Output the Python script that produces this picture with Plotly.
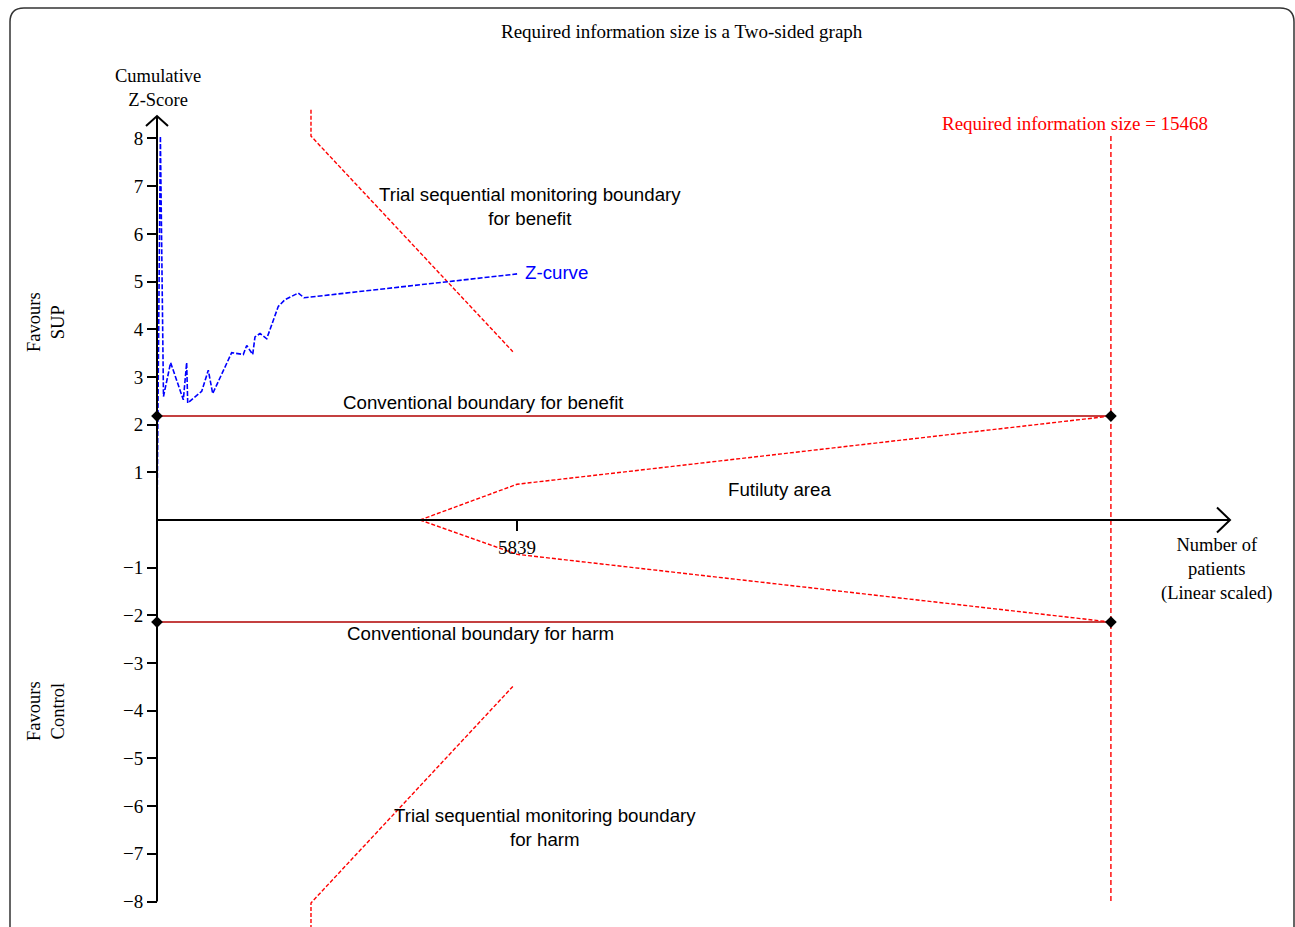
import plotly.graph_objects as go

# ---- data -------------------------------------------------------------
RIS = 15468                # required information size
CURRENT_N = 5839           # patients accrued so far

# cumulative Z-curve
z_n = [0, 55, 105, 221, 427, 481, 498, 725, 832, 903, 1211, 1399, 1455,
       1552, 1589, 1670, 1779, 1967, 2076, 2291, 2384, CURRENT_N]
z_val = [0, 8.05, 2.59, 3.30, 2.52, 3.30, 2.45, 2.70, 3.14, 2.65, 3.51,
         3.47, 3.66, 3.47, 3.84, 3.91, 3.80, 4.48, 4.62, 4.76, 4.66, 5.16]

# trial sequential monitoring boundaries
tsmb_benefit_n = [2497, 2497, 5770]
tsmb_benefit_z = [8.6, 8.05, 3.53]
tsmb_harm_n = [2497, 2497, 5770]
tsmb_harm_z = [-8.7, -8.03, -3.49]

# futility (inner wedge) boundaries
fut_upper_n = [4265, CURRENT_N, RIS]
fut_upper_z = [0, 0.75, 2.18]
fut_lower_n = [4265, CURRENT_N, RIS]
fut_lower_z = [0, -0.72, -2.14]

# conventional boundaries
conv_benefit = 2.18
conv_harm = -2.14

y_ticks = [-8, -7, -6, -5, -4, -3, -2, -1, 1, 2, 3, 4, 5, 6, 7, 8]
x_ticks = [CURRENT_N]

# ---- layout geometry --------------------------------------------------
W, H = 1295, 927
ML, MR, MT, MB = 126, 40, 100, 0
PW, PH = W - ML - MR, H - MT - MB
X0_PX, X_SCALE = 157, 0.06167       # pixel of x=0, pixels per patient
Y0_PX, Y_SCALE = 520, 47.69         # pixel of z=0, pixels per unit z

x_lo = (ML - X0_PX) / X_SCALE
x_hi = (ML + PW - X0_PX) / X_SCALE
y_hi = (Y0_PX - MT) / Y_SCALE
y_lo = (Y0_PX - (H - MB)) / Y_SCALE


def px(xp):
    return (xp - ML) / PW


def py(yp):
    return (H - MB - yp) / PH


SERIF = "Liberation Serif"
SANS = "Liberation Sans"
SERIF_SIZE = 19
SANS_SIZE = 18.7
RED = "#ff0000"
DARKRED = "#b00000"
BLUE = "#0000ff"

fig = go.Figure()

# conventional boundaries
for zc in (conv_benefit, conv_harm):
    fig.add_trace(go.Scatter(x=[0, RIS], y=[zc, zc], mode="lines",
                             line=dict(color=DARKRED, width=1.6),
                             hoverinfo="skip", cliponaxis=False))

# futility wedge
for xs, ys in ((fut_upper_n, fut_upper_z), (fut_lower_n, fut_lower_z)):
    fig.add_trace(go.Scatter(x=xs, y=ys, mode="lines",
                             line=dict(color=RED, width=1.4, dash="4px,2px"),
                             hoverinfo="skip"))

# monitoring boundaries
for xs, ys in ((tsmb_benefit_n, tsmb_benefit_z), (tsmb_harm_n, tsmb_harm_z)):
    fig.add_trace(go.Scatter(x=xs, y=ys, mode="lines",
                             line=dict(color=RED, width=1.4, dash="4px,2px"),
                             hoverinfo="skip"))

# required information size line
fig.add_trace(go.Scatter(x=[RIS, RIS], y=[8.05, -8.0], mode="lines",
                         line=dict(color=RED, width=1.4, dash="5px,3px"),
                         hoverinfo="skip"))

# axes lines with arrowheads
arm_x = 11 / X_SCALE
arm_y = 10 / Y_SCALE
y_top = 8.47
fig.add_shape(type="line", x0=0, x1=0, y0=-8, y1=y_top,
              line=dict(color="black", width=2))
fig.add_shape(type="path",
              path=f"M {-arm_x} {y_top - arm_y} L 0 {y_top} L {arm_x} {y_top - arm_y}",
              line=dict(color="black", width=2))
x_end = 17399
ax_arm_x = 13 / X_SCALE
ax_arm_y = 12.5 / Y_SCALE
fig.add_shape(type="line", x0=0, x1=x_end, y0=0, y1=0,
              line=dict(color="black", width=2))
fig.add_shape(type="path",
              path=f"M {x_end - ax_arm_x} {ax_arm_y} L {x_end} 0 L {x_end - ax_arm_x} {-ax_arm_y}",
              line=dict(color="black", width=2))

# Z-curve
fig.add_trace(go.Scatter(x=z_n, y=z_val, mode="lines",
                         line=dict(color=BLUE, width=1.6, dash="5px,2px"),
                         hoverinfo="skip", cliponaxis=False))

# boundary end points
fig.add_trace(go.Scatter(x=[0, RIS, 0, RIS],
                         y=[conv_benefit, conv_benefit, conv_harm, conv_harm],
                         mode="markers",
                         marker=dict(symbol="diamond", size=9, color="black"),
                         hoverinfo="skip", cliponaxis=False))

# outer rounded frame
r = 14
fl, ft, fr, fb = 10, 8, 1294, 945
frame = (f"M {px(fl)} {py(fb)} L {px(fl)} {py(ft + r)} "
         f"Q {px(fl)} {py(ft)} {px(fl + r)} {py(ft)} "
         f"L {px(fr - r)} {py(ft)} Q {px(fr)} {py(ft)} {px(fr)} {py(ft + r)} "
         f"L {px(fr)} {py(fb)}")
fig.add_shape(type="path", path=frame, xref="paper", yref="paper",
              line=dict(color="#333333", width=1.5))

ann = []


def note(text, x, y, size=SANS_SIZE, color="black", family=SANS, xref="x",
         yref="y", xanchor="center", angle=0):
    ann.append(dict(text=text, x=x, y=y, xref=xref, yref=yref, showarrow=False,
                    xanchor=xanchor, yanchor="middle", textangle=angle,
                    font=dict(family=family, size=size, color=color)))


note("Required information size is a Two-sided graph", px(682), py(32),
     family=SERIF, size=SERIF_SIZE, xref="paper", yref="paper")
note("Cumulative<br>Z-Score", px(158), py(88), family=SERIF, size=18.5,
     xref="paper", yref="paper")
note("Favours<br>SUP", px(46), py(322), family=SERIF, size=18.5,
     xref="paper", yref="paper", angle=-90)
note("Favours<br>Control", px(46), py(711), family=SERIF, size=18.5,
     xref="paper", yref="paper", angle=-90)
note("Number of<br>patients<br>(Linear scaled)", 17188, -1.03, family=SERIF,
     size=18.5)
note(f"Required information size = {RIS}", 14886, 8.32, family=SERIF,
     size=SERIF_SIZE, color=RED)
note("Trial sequential monitoring boundary<br>for benefit", 6048, 6.58)
note("Z-curve", 5935, 5.18, color=BLUE, xanchor="left")
note("Conventional boundary for benefit", 5302, 2.47)
note("Futiluty area", 10086, 0.65)
note("Conventional boundary for harm", 5238, -2.37)
note("Trial sequential monitoring boundary<br>for harm", 6292, -6.44)

fig.update_layout(
    width=W, height=H,
    margin=dict(l=ML, r=MR, t=MT, b=MB, pad=0),
    paper_bgcolor="white", plot_bgcolor="white",
    showlegend=False,
    annotations=ann,
    xaxis=dict(range=[x_lo, x_hi], showgrid=False, zeroline=False,
               showline=False, anchor="free",
               position=(0 - y_lo) / (y_hi - y_lo),
               tickvals=x_ticks, ticktext=[str(v) for v in x_ticks],
               ticks="outside", ticklen=10, tickwidth=2, tickcolor="black",
               tickfont=dict(family=SERIF, size=SERIF_SIZE, color="black")),
    yaxis=dict(range=[y_lo, y_hi], showgrid=False, zeroline=False,
               showline=False, anchor="free",
               position=(0 - x_lo) / (x_hi - x_lo),
               tickvals=y_ticks, ticks="outside", ticklen=10, tickwidth=2,
               tickcolor="black",
               tickfont=dict(family=SERIF, size=SERIF_SIZE, color="black")),
)

fig.write_html("out.html")
